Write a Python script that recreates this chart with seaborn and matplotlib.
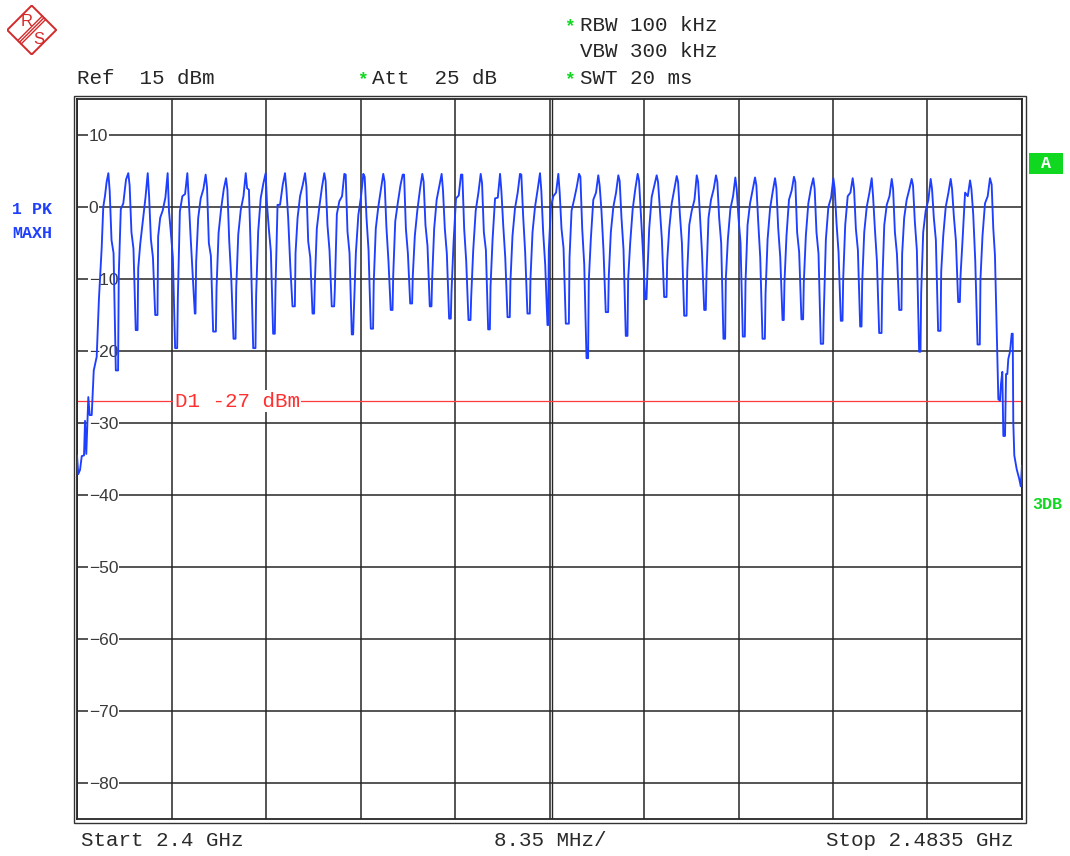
import numpy as np
import pandas as pd
import matplotlib
matplotlib.use("Agg")
import matplotlib.pyplot as plt
import seaborn as sns
from matplotlib.patches import Polygon, Rectangle
from matplotlib.lines import Line2D

sns.set_theme(style="white")
plt.rcParams['font.family'] = ['Liberation Mono', 'DejaVu Sans Mono']

# ---------------- data ----------------
span_mhz = 83.5
div_mhz = 8.35
n_div = 10
ref_dbm = 15
bottom_dbm = -85
ytick_vals = [10, 0, -10, -20, -30, -40, -50, -60, -70, -80]
d1_dbm = -27

header_lines = ["RBW 100 kHz", "VBW 300 kHz", "SWT 20 ms"]
ref_text = "Ref  15 dBm"
att_text = "Att  25 dB"
start_text = "Start 2.4 GHz"
per_div_text = "8.35 MHz/"
stop_text = "Stop 2.4835 GHz"
d1_text = "D1 -27 dBm"

trace_mhz = [
    0.00, 0.11, 0.27, 0.42, 0.62, 0.71, 0.82, 1.00, 1.12, 1.30, 1.48, 1.74, 1.94, 2.18, 2.32, 2.47, 2.62,
    2.77, 2.89, 3.05, 3.23, 3.43, 3.63, 3.69, 3.87, 4.09, 4.33,
    4.53, 4.65, 4.81, 4.99, 5.19, 5.35, 5.41, 5.59, 5.81, 6.05,
    6.25, 6.37, 6.53, 6.71, 6.91, 7.11, 7.17, 7.35, 7.57, 7.81,
    8.01, 8.13, 8.29, 8.47, 8.67, 8.85, 8.91, 9.09, 9.31, 9.55,
    9.75, 9.87, 10.03, 10.21, 10.41, 10.47, 10.53, 10.71, 10.93, 11.17,
    11.37, 11.49, 11.65, 11.83, 12.03, 12.27, 12.33, 12.51, 12.73, 12.97,
    13.17, 13.29, 13.45, 13.63, 13.83, 14.01, 14.07, 14.25, 14.47, 14.71,
    14.91, 15.03, 15.19, 15.37, 15.57, 15.77, 15.83, 16.01, 16.23, 16.47,
    16.67, 16.79, 16.95, 17.13, 17.33, 17.48, 17.54, 17.72, 17.94, 18.18,
    18.38, 18.50, 18.66, 18.84, 19.04, 19.25, 19.31, 19.49, 19.71, 19.95,
    20.15, 20.27, 20.43, 20.61, 20.81, 20.95, 21.01, 21.19, 21.41, 21.65,
    21.85, 21.97, 22.13, 22.31, 22.51, 22.72, 22.78, 22.96, 23.18, 23.42,
    23.62, 23.74, 23.90, 24.08, 24.28, 24.40, 24.46, 24.64, 24.86, 25.10,
    25.30, 25.42, 25.58, 25.76, 25.96, 26.16, 26.22, 26.40, 26.62, 26.86,
    27.06, 27.18, 27.34, 27.52, 27.72, 27.88, 27.94, 28.12, 28.34, 28.58,
    28.78, 28.90, 29.06, 29.24, 29.44, 29.61, 29.67, 29.85, 30.07, 30.31,
    30.51, 30.63, 30.79, 30.97, 31.17, 31.32, 31.38, 31.56, 31.78, 32.02,
    32.22, 32.34, 32.50, 32.68, 32.88, 33.03, 33.09, 33.27, 33.49, 33.73,
    33.93, 34.05, 34.21, 34.39, 34.59, 34.77, 34.83, 35.01, 35.23, 35.47,
    35.67, 35.79, 35.95, 36.13, 36.33, 36.48, 36.54, 36.72, 36.94, 37.18,
    37.38, 37.50, 37.66, 37.84, 38.04, 38.24, 38.30, 38.48, 38.70, 38.94,
    39.14, 39.26, 39.42, 39.60, 39.80, 40.01, 40.07, 40.25, 40.47, 40.71,
    40.91, 41.03, 41.19, 41.37, 41.57, 41.63, 41.69, 41.87, 42.09, 42.33,
    42.53, 42.65, 42.81, 42.99, 43.19, 43.46, 43.52, 43.70, 43.92, 44.16,
    44.36, 44.48, 44.64, 44.82, 45.02, 45.16, 45.22, 45.40, 45.62, 45.86,
    46.06, 46.18, 46.34, 46.52, 46.72, 46.93, 46.99, 47.17, 47.39, 47.63,
    47.83, 47.95, 48.11, 48.29, 48.49, 48.64, 48.70, 48.88, 49.10, 49.34,
    49.54, 49.66, 49.82, 50.00, 50.20, 50.32, 50.38, 50.56, 50.78, 51.02,
    51.22, 51.34, 51.50, 51.68, 51.88, 52.09, 52.15, 52.33, 52.55, 52.79,
    52.99, 53.11, 53.27, 53.45, 53.65, 53.86, 53.92, 54.10, 54.32, 54.56,
    54.76, 54.88, 55.04, 55.22, 55.42, 55.56, 55.62, 55.80, 56.02, 56.26,
    56.46, 56.58, 56.74, 56.92, 57.12, 57.27, 57.33, 57.51, 57.73, 57.97,
    58.17, 58.29, 58.45, 58.63, 58.83, 59.01, 59.07, 59.25, 59.47, 59.71,
    59.91, 60.03, 60.19, 60.37, 60.57, 60.78, 60.84, 61.02, 61.24, 61.48,
    61.68, 61.80, 61.96, 62.14, 62.34, 62.45, 62.51, 62.69, 62.91, 63.15,
    63.35, 63.47, 63.63, 63.81, 64.01, 64.16, 64.22, 64.40, 64.62, 64.86,
    65.06, 65.18, 65.34, 65.52, 65.72, 65.93, 65.99, 66.17, 66.39, 66.63,
    66.83, 66.95, 67.11, 67.29, 67.49, 67.64, 67.70, 67.88, 68.10, 68.34,
    68.54, 68.66, 68.82, 69.00, 69.20, 69.32, 69.38, 69.56, 69.78, 70.02,
    70.22, 70.34, 70.50, 70.68, 70.88, 71.09, 71.15, 71.33, 71.55, 71.79,
    71.99, 72.11, 72.27, 72.45, 72.65, 72.85, 72.91, 73.09, 73.31, 73.55,
    73.75, 73.87, 74.03, 74.21, 74.41, 74.53, 74.59, 74.77, 74.99, 75.23,
    75.43, 75.55, 75.71, 75.89, 76.09, 76.30, 76.36, 76.54, 76.76, 77.00,
    77.20, 77.32, 77.48, 77.66, 77.86, 78.01, 78.07, 78.25, 78.47, 78.71,
    78.91, 79.03, 79.19, 79.37, 79.57, 79.77, 79.83, 80.01, 80.23, 80.47,
    80.67, 80.82, 80.96, 81.11, 81.41, 81.56, 81.64, 81.76, 81.85, 82.00, 82.09,
    82.20, 82.29, 82.44, 82.59, 82.68, 82.73, 82.82, 83.03, 83.26, 83.39, 83.50,
]

trace_dbm = [
    -34.5, -37.1, -36.5, -34.6, -34.5, -29.7, -34.3, -26.4, -28.9, -28.9, -22.7, -20.8, -12.7, -5.7, 0.0, 1.5, 3.5,
    4.7, 2.2, -4.6, -6.4, -22.7, -22.7, -9.5, -0.3, 0.5, 3.8,
    4.7, 3.0, -3.5, -5.8, -17.1, -17.1, -8.5, -5.1, -2.0, 1.3,
    4.7, 1.5, -4.5, -7.0, -15.0, -15.0, -4.1, -1.5, -0.5, 1.3,
    4.7, -0.6, -3.5, -7.0, -19.6, -19.6, -12.7, -0.6, 1.5, 1.8,
    4.7, 1.2, -3.9, -9.0, -14.8, -14.8, -7.6, -1.5, 1.2, 2.5,
    4.5, 2.7, -5.0, -6.8, -17.3, -17.3, -11.2, -3.6, -0.3, 2.5,
    4.0, 2.4, -4.7, -9.9, -18.3, -18.3, -11.2, -3.8, -0.4, 1.5,
    4.7, 2.6, 2.4, -7.1, -19.6, -19.6, -12.2, -3.4, 1.2, 3.3,
    4.7, 0.3, -3.0, -6.2, -17.6, -17.6, -11.2, 0.3, 0.3, 3.1,
    4.7, 2.5, -1.5, -8.0, -13.8, -13.8, -6.4, -1.5, 1.5, 3.1,
    4.7, 2.8, -4.8, -7.0, -14.8, -14.8, -10.8, -3.0, 0.0, 2.8,
    4.7, 3.6, -2.5, -6.0, -13.8, -13.8, -11.5, -1.0, 0.8, 1.5,
    4.6, 4.5, -3.4, -6.4, -17.7, -17.7, -14.6, -6.4, -1.1, 1.5,
    4.6, 4.2, -1.5, -6.0, -16.9, -16.9, -10.5, -3.0, 0.0, 2.5,
    4.6, 3.5, -2.8, -7.5, -14.3, -14.3, -9.5, -2.0, 0.5, 3.0,
    4.5, 4.5, -3.0, -6.5, -13.4, -13.4, -9.6, -4.0, -0.5, 2.5,
    4.6, 3.5, -2.5, -5.4, -13.8, -13.8, -10.0, -3.0, 1.0, 3.0,
    4.6, 2.3, -3.0, -6.5, -15.5, -15.5, -11.8, -5.0, 1.2, 1.6,
    4.5, 4.5, -3.0, -7.5, -15.7, -15.7, -12.5, -6.0, -0.5, 2.0,
    4.6, 3.3, -3.5, -6.0, -17.0, -17.0, -11.0, -4.5, 1.2, 1.3,
    4.6, 2.2, -2.5, -7.0, -15.3, -15.3, -10.3, -4.0, -0.2, 2.0,
    4.6, 4.5, -1.2, -6.3, -14.8, -14.8, -9.9, -3.5, 0.0, 2.5,
    4.7, 2.2, -3.5, -8.0, -16.4, -16.4, -6.0, 0.0, 1.5, 2.0,
    4.6, 2.0, -3.0, -5.7, -16.2, -16.2, -7.0, -0.5, 1.0, 2.8,
    4.6, 4.2, -3.0, -8.0, -21.0, -21.0, -10.3, -4.5, 1.0, 2.0,
    4.4, 3.0, -0.5, -6.0, -14.6, -14.6, -9.5, -3.5, 0.0, 2.0,
    4.4, 3.6, -1.5, -5.9, -17.9, -17.9, -10.0, -5.0, -0.3, 2.6,
    4.6, 3.7, -1.0, -6.0, -12.8, -12.8, -10.0, -3.0, 1.4, 3.0,
    4.4, 3.5, -0.3, -4.5, -12.5, -12.5, -7.5, -3.0, 0.5, 2.6,
    4.3, 3.5, -1.0, -5.0, -15.1, -15.1, -9.0, -2.5, -0.5, 1.0,
    4.4, 3.5, -1.0, -6.2, -14.3, -14.3, -9.5, -1.5, 1.0, 2.5,
    4.4, 3.5, -1.5, -5.0, -18.3, -18.3, -10.0, -4.5, -0.3, 1.5,
    4.1, 2.5, -1.5, -5.0, -18.0, -18.0, -10.5, -2.5, 0.5, 2.5,
    4.1, 3.0, -2.0, -7.0, -18.3, -18.3, -12.0, -4.5, -0.2, 2.2,
    4.0, 2.6, -3.0, -7.0, -15.7, -15.7, -10.5, -4.0, 1.0, 2.3,
    4.2, 3.5, -3.5, -6.3, -15.6, -15.6, -10.5, -4.0, 0.5, 2.7,
    4.0, 2.5, -3.5, -6.5, -19.0, -19.0, -14.5, -4.5, 0.0, 1.3,
    4.0, 2.5, -2.2, -6.3, -15.8, -15.8, -10.0, -2.5, 1.5, 2.0,
    4.0, 2.5, -3.0, -6.0, -16.6, -16.6, -10.5, -3.5, 0.0, 2.0,
    4.0, 1.5, -3.0, -7.5, -17.5, -17.5, -11.0, -2.5, 0.3, 1.5,
    3.9, 2.5, -3.5, -6.5, -14.3, -14.3, -6.5, -1.5, 1.0, 2.5,
    3.9, 3.0, -2.0, -6.0, -20.1, -20.1, -12.0, -3.5, -0.5, 1.0,
    3.9, 2.5, -1.5, -4.6, -17.2, -17.2, -9.0, -4.0, 0.0, 2.0,
    3.9, 2.5, -1.3, -4.7, -13.2, -13.2, -9.5, -4.5, 2.0, 1.5,
    3.7, 2.5, -1.0, -7.5, -19.1, -19.1, -10.0, -4.0, 0.5, 1.5,
    4.0, 3.1, -2.9, -6.7, -26.7, -26.9, -24.6, -22.9, -31.8, -31.8, -23.2,
    -23.2, -21.1, -20.1, -17.6, -17.6, -29.9, -34.5, -36.4, -37.8, -38.8, -35.9,
]

# ---------------- layout helpers ----------------
W, H = 1070, 856
fig = plt.figure(figsize=(W / 100, H / 100), dpi=100)
fig.patch.set_facecolor('white')


def fx(px):
    return px / W


def fy(py):
    return 1 - py / H


TRACE_BLUE = '#1f3fff'
GRID = '#262626'
GREEN = '#10d820'
RED = '#ff3030'

ax = fig.add_axes([fx(77), fy(819), fx(1022) - fx(77), fy(99) - fy(819)])
df = pd.DataFrame({'mhz': trace_mhz, 'dbm': trace_dbm})
sns.lineplot(data=df, x='mhz', y='dbm', ax=ax, color=TRACE_BLUE, lw=1.35,
             sort=False, estimator=None, zorder=3)
ax.set_xlim(0, span_mhz)
ax.set_ylim(bottom_dbm, ref_dbm)
ax.set_xlabel('')
ax.set_ylabel('')
ax.set_xticks([div_mhz * i for i in range(n_div + 1)])
ax.set_yticks(ytick_vals)
ax.set_axisbelow(True)
ax.grid(True, color=GRID, lw=1.1)
ax.tick_params(axis='x', length=0, labelbottom=False)
ax.tick_params(axis='y', length=0, pad=-8.5, labelsize=12.5, labelcolor='#3a3a3a')
for lbl in ax.get_yticklabels():
    lbl.set_horizontalalignment('left')
    lbl.set_family(['Liberation Sans', 'DejaVu Sans'])
    lbl.set_bbox(dict(fc='white', ec='none', pad=0.4))
for sp in ax.spines.values():
    sp.set_color(GRID)
    sp.set_linewidth(1.3)

# double centre line
ax.axvline(span_mhz / 2 + 0.2, color=GRID, lw=1.0, zorder=1)

# display line D1
ax.axhline(d1_dbm, color='#ff3b3b', lw=0.9, zorder=2)
ax.text(div_mhz + 0.3, d1_dbm, d1_text, color=RED, fontsize=15, ha='left',
        va='center', zorder=2.5, bbox=dict(fc='white', ec='none', pad=1.0))

# outer double frame
fig.add_artist(Rectangle((fx(74), fy(822.5)), fx(1025.5) - fx(74), fy(96) - fy(822.5),
                         transform=fig.transFigure, fill=False, ec='#333333', lw=1.0))

# ---------------- header texts ----------------
TXT = '#262626'
fig.text(fx(77), fy(84), ref_text, fontsize=15, color=TXT, va='baseline')
fig.text(fx(357), fy(84), '*', fontsize=13, color=GREEN, va='baseline', weight='bold')
fig.text(fx(372), fy(84), att_text, fontsize=15, color=TXT, va='baseline')
for i, (line, star) in enumerate(zip(header_lines, [True, False, True])):
    yb = [31, 57, 84][i]
    fig.text(fx(580), fy(yb), line, fontsize=15, color=TXT, va='baseline')
    if star:
        fig.text(fx(564), fy(yb), '*', fontsize=13, color=GREEN, va='baseline', weight='bold')

# bottom texts
fig.text(fx(81), fy(846), start_text, fontsize=15, color='#2a2a2a', va='baseline')
fig.text(fx(494), fy(846), per_div_text, fontsize=15, color='#2a2a2a', va='baseline')
fig.text(fx(826), fy(846), stop_text, fontsize=15, color='#2a2a2a', va='baseline')

# left trace info
fig.text(fx(12), fy(214), '1 PK', fontsize=12, color=TRACE_BLUE, weight='bold', va='baseline')
fig.text(fx(12), fy(238), 'MAXH', fontsize=12, color=TRACE_BLUE, weight='bold', va='baseline')

# right side indicators
fig.add_artist(Rectangle((fx(1029), fy(174)), fx(1063) - fx(1029), fy(153) - fy(174),
                         transform=fig.transFigure, fc=GREEN, ec='none'))
fig.text(fx(1046), fy(163.5), 'A', fontsize=12, color='white', weight='bold',
         ha='center', va='center')
fig.text(fx(1032), fy(509), '3DB', fontsize=12, color=GREEN, weight='bold', va='baseline')

# ---------------- logo ----------------
lax = fig.add_axes([fx(6.7), fy(55), fx(56.7) - fx(6.7), fy(5) - fy(55)])
lax.set_xlim(-1.02, 1.02)
lax.set_ylim(-1.02, 1.02)
lax.axis('off')
LOGO = '#d42a2a'
lax.add_patch(Polygon([(0, 1), (1, 0), (0, -1), (-1, 0)], closed=True, fill=False,
                      ec=LOGO, lw=1.4))
for off in (-0.07, 0.0, 0.07):
    lax.add_line(Line2D([-0.5 - off, 0.5 - off], [-0.5 + off, 0.5 + off], color=LOGO, lw=1.0))
lax.text(-0.2, 0.36, 'R', color=LOGO, fontsize=12, ha='center', va='center',
         family=['Liberation Sans', 'DejaVu Sans'])
lax.text(0.3, -0.38, 'S', color=LOGO, fontsize=12, ha='center', va='center',
         family=['Liberation Sans', 'DejaVu Sans'])

fig.savefig('out.png', dpi=100, facecolor='white')
